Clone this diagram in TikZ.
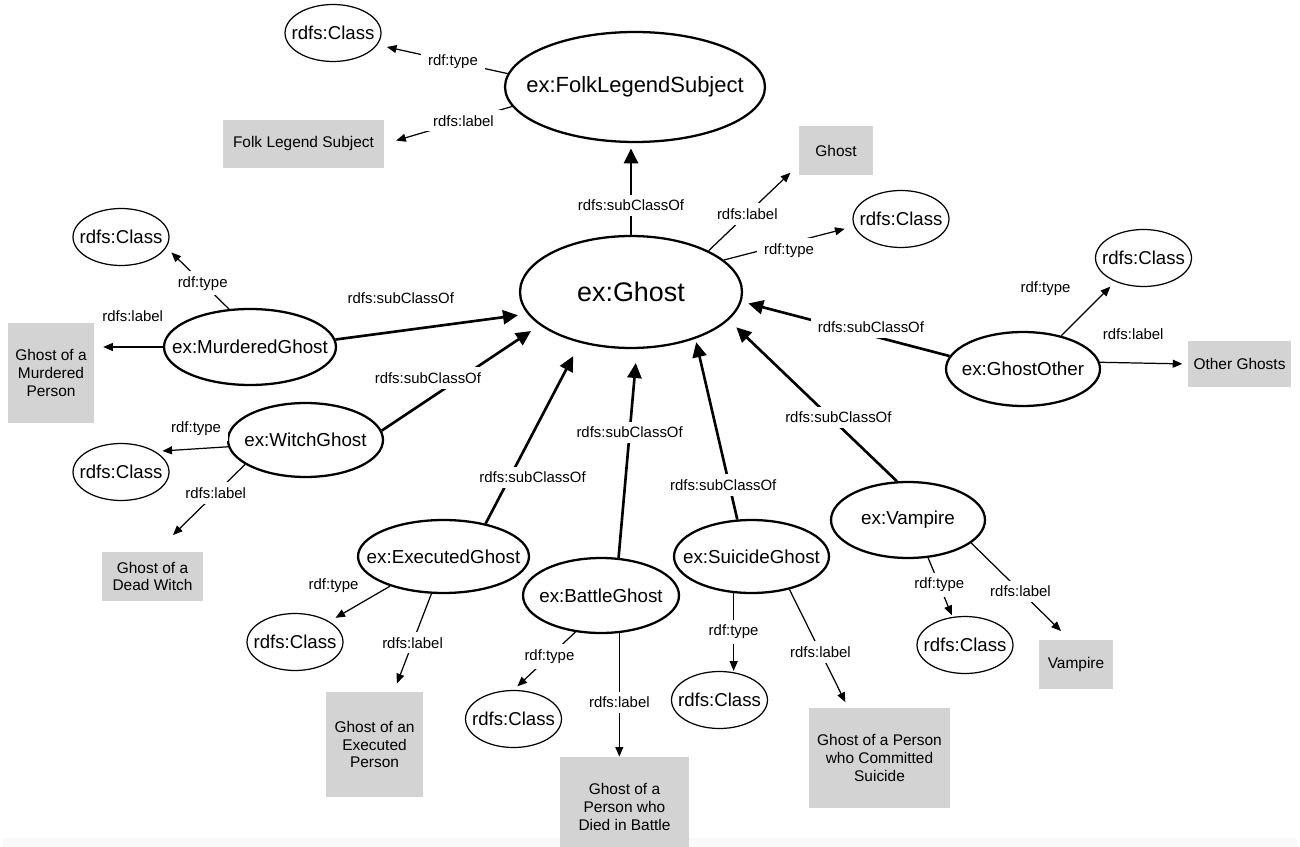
\documentclass[tikz,border=0pt]{standalone}
\usepackage{fontspec}
\setmainfont{Liberation Sans}
\usetikzlibrary{arrows.meta,shapes.geometric}
\definecolor{LitGray}{RGB}{211,211,211}
\definecolor{BandGray}{RGB}{249,249,249}
\newcommand{\zwtext}[1]{\makebox[0pt]{#1}}

\begin{document}
\begin{tikzpicture}[x=0.02cm,y=-0.02cm,
    cls/.style={ellipse, draw, line width=1.3pt, inner sep=0pt, font=\fontsize{10.7}{12}\selectfont},
    rdfcls/.style={ellipse, draw, line width=0.7pt, inner sep=0pt, minimum width=1.92cm, minimum height=1.14cm, font=\fontsize{10.6}{12}\selectfont},
    lit/.style={fill=LitGray, inner sep=0pt, align=center, font=\fontsize{8.8}{10}\selectfont},
    lbl/.style={fill=white, inner xsep=4pt, inner ysep=3pt, font=\fontsize{8.5}{10}\selectfont},
    subedge/.style={line width=1.5pt, -{Triangle[length=8.5pt,width=8pt]}},
    propedge/.style={line width=0.7pt, -{Triangle[length=5.5pt,width=4.5pt]}}]
    %%Background
    \fill[BandGray] (3,838) rectangle (1297,847);
    \useasboundingbox (0,0) rectangle (1300,847);
    %%Classes
    \node[cls, minimum width=5.2cm, minimum height=2.2cm, font=\fontsize{12.5}{14}\selectfont] (fls) at (635,87) {\zwtext{ex:FolkLegendSubject}};
    \node[cls, minimum width=4.44cm, minimum height=2.24cm, font=\fontsize{15.3}{17}\selectfont] (ghost) at (631,292) {\zwtext{ex:Ghost}};
    \node[cls, minimum width=3.44cm, minimum height=1.52cm] (murd) at (250,347) {\zwtext{ex:MurderedGhost}};
    \node[cls, minimum width=3.1cm, minimum height=1.48cm] (witch) at (305.5,440) {\zwtext{ex:WitchGhost}};
    \node[cls, minimum width=3.42cm, minimum height=1.46cm] (exec) at (443.5,556.5) {\zwtext{ex:ExecutedGhost}};
    \node[cls, minimum width=3.12cm, minimum height=1.5cm] (battle) at (601,595.5) {\zwtext{ex:BattleGhost}};
    \node[cls, minimum width=3.1cm, minimum height=1.46cm] (suic) at (751.5,556.5) {\zwtext{ex:SuicideGhost}};
    \node[cls, minimum width=3.08cm, minimum height=1.52cm] (vamp) at (908,520) {\zwtext{ex:Vampire}};
    \node[cls, minimum width=3.08cm, minimum height=1.48cm] (other) at (1023,369) {\zwtext{ex:GhostOther}};
    %%rdfs:Class
    \node[rdfcls] (flsCls) at (333,33) {\zwtext{rdfs:Class}};
    \node[rdfcls] (ghostCls) at (901,219) {\zwtext{rdfs:Class}};
    \node[rdfcls] (murdCls) at (121,237) {\zwtext{rdfs:Class}};
    \node[rdfcls] (witchCls) at (121,472) {\zwtext{rdfs:Class}};
    \node[rdfcls] (execCls) at (295,642) {\zwtext{rdfs:Class}};
    \node[rdfcls] (battleCls) at (513.5,719) {\zwtext{rdfs:Class}};
    \node[rdfcls] (suicCls) at (719.5,700) {\zwtext{rdfs:Class}};
    \node[rdfcls] (vampCls) at (965,645) {\zwtext{rdfs:Class}};
    \node[rdfcls] (otherCls) at (1143.5,258) {\zwtext{rdfs:Class}};
    %%Literals
    \node[lit, minimum width=3.22cm, minimum height=0.96cm] (flsLbl) at (303.5,144) {Folk Legend Subject};
    \node[lit, minimum width=1.48cm, minimum height=0.98cm] (ghostLbl) at (836,150.5) {Ghost};
    \node[lit, minimum width=1.72cm, minimum height=2cm] (murdLbl) at (51,373) {Ghost of a\\Murdered\\Person};
    \node[lit, minimum width=2.02cm, minimum height=0.98cm] (witchLbl) at (152.5,576.5) {Ghost of a\\Dead Witch};
    \node[lit, minimum width=1.94cm, minimum height=2.1cm] (execLbl) at (374.5,744.5) {Ghost of an\\Executed\\Person};
    \node[lit, minimum width=2.58cm, minimum height=2cm] (battleLbl) at (624.5,807) {Ghost of a\\Person who\\Died in Battle};
    \node[lit, minimum width=2.82cm, minimum height=2cm] (suicLbl) at (879.5,758) {Ghost of a Person\\who Committed\\Suicide};
    \node[lit, minimum width=1.48cm, minimum height=0.98cm] (vampLbl) at (1076,664.5) {Vampire};
    \node[lit, minimum width=2.06cm, minimum height=0.92cm] (otherLbl) at (1239.5,364) {Other Ghosts};
    %%subClassOf
    \draw[subedge, shorten >=3pt] (ghost.north) to node[lbl, pos=.32]{rdfs:subClassOf} (ghost.north |- fls.south);
    \draw[subedge, shorten >=5.5pt] (murd.5) to node[lbl, pos=.34, yshift=18.7pt]{rdfs:subClassOf} (ghost.192);
    \draw[subedge, shorten >=6pt] (witch.7) to node[lbl, pos=.47, xshift=-16pt, yshift=1.8pt]{rdfs:subClassOf} (ghost.200);
    \draw[subedge, shorten >=8.5pt] (exec.38) to node[lbl, pos=.255, xshift=13pt]{rdfs:subClassOf} (ghost.225);
    \draw[subedge, shorten >=8pt] (battle.65) to node[lbl, pos=.6]{rdfs:subClassOf} (ghost.276);
    \draw[subedge, shorten >=2pt] (suic.111) to node[lbl, pos=.19, xshift=-3.5pt]{rdfs:subClassOf} (ghost.324);
    \draw[subedge, shorten >=6pt] (vamp.106) to node[lbl, pos=.395, xshift=4.5pt]{rdfs:subClassOf} (ghost.344);
    \draw[subedge, shorten >=4pt] (other.170) to node[lbl, pos=.378, yshift=4.9pt]{rdfs:subClassOf} (ghost.355);
    %%rdf:type
    \draw[propedge, shorten >=5.5pt] (fls.174) to node[lbl, pos=.42]{rdf:type} (flsCls.345);
    \draw[propedge, shorten >=5.5pt] (ghost.19) to node[lbl, pos=.5, yshift=-4pt]{rdf:type} (ghostCls.189);
    \draw[propedge, shorten >=4pt] (murd.119) to node[lbl, pos=.42]{rdf:type} (murdCls.347);
    \draw[propedge, shorten >=4pt] (witch.185) to node[lbl, pos=.44, yshift=11.3pt]{rdf:type} (witchCls.north east);
    \draw[propedge, shorten >=4pt] (exec.209) to node[lbl, pos=.93, yshift=18.7pt]{rdf:type} (execCls.north east);
    \draw[propedge, shorten >=3pt] (battle.235) to node[lbl, pos=.42]{rdf:type} (battleCls.north);
    \draw[propedge] (suic.244) to node[lbl, pos=.5]{rdf:type} (suic.244 |- suicCls.north);
    \draw[propedge, shorten >=1pt] (vamp.298) to node[lbl, pos=.46]{rdf:type} (vampCls.114);
    \draw[propedge, shorten >=4pt] (other.41) to node[lbl, pos=.88, xshift=-36pt]{rdf:type} (otherCls.220);
    %%rdfs:label
    \draw[propedge, shorten >=7pt] (fls.189) to node[lbl, pos=.38]{rdfs:label} (flsLbl.east);
    \draw[propedge, shorten >=6.5pt] (ghost.28) to node[lbl, pos=.43]{rdfs:label} (ghostLbl.201);
    \draw[propedge, shorten >=5pt] (murd.west) to node[lbl, pos=.44, yshift=17.6pt]{rdfs:label} (murd.west -| murdLbl.east);
    \draw[propedge, shorten >=13.5pt] (witch.202) to node[lbl, pos=.33]{rdfs:label} (witchLbl.82);
    \draw[propedge, shorten >=5pt] (exec.252) to node[lbl, pos=.5]{rdfs:label} (execLbl.70);
    \draw[propedge] (battle.296) to node[lbl, pos=.56]{rdfs:label} (battle.296 |- battleLbl.north);
    \draw[propedge, shorten >=3.5pt] (suic.319) to node[lbl, pos=.53]{rdfs:label} (suicLbl.122);
    \draw[propedge, shorten >=7pt] (vamp.340) to node[lbl, pos=.5]{rdfs:label} (vampLbl.104);
    \draw[propedge, shorten >=3pt] (other.5) to node[lbl, pos=.38, yshift=16.4pt]{rdfs:label} (otherLbl.west);
\end{tikzpicture}
\end{document}
